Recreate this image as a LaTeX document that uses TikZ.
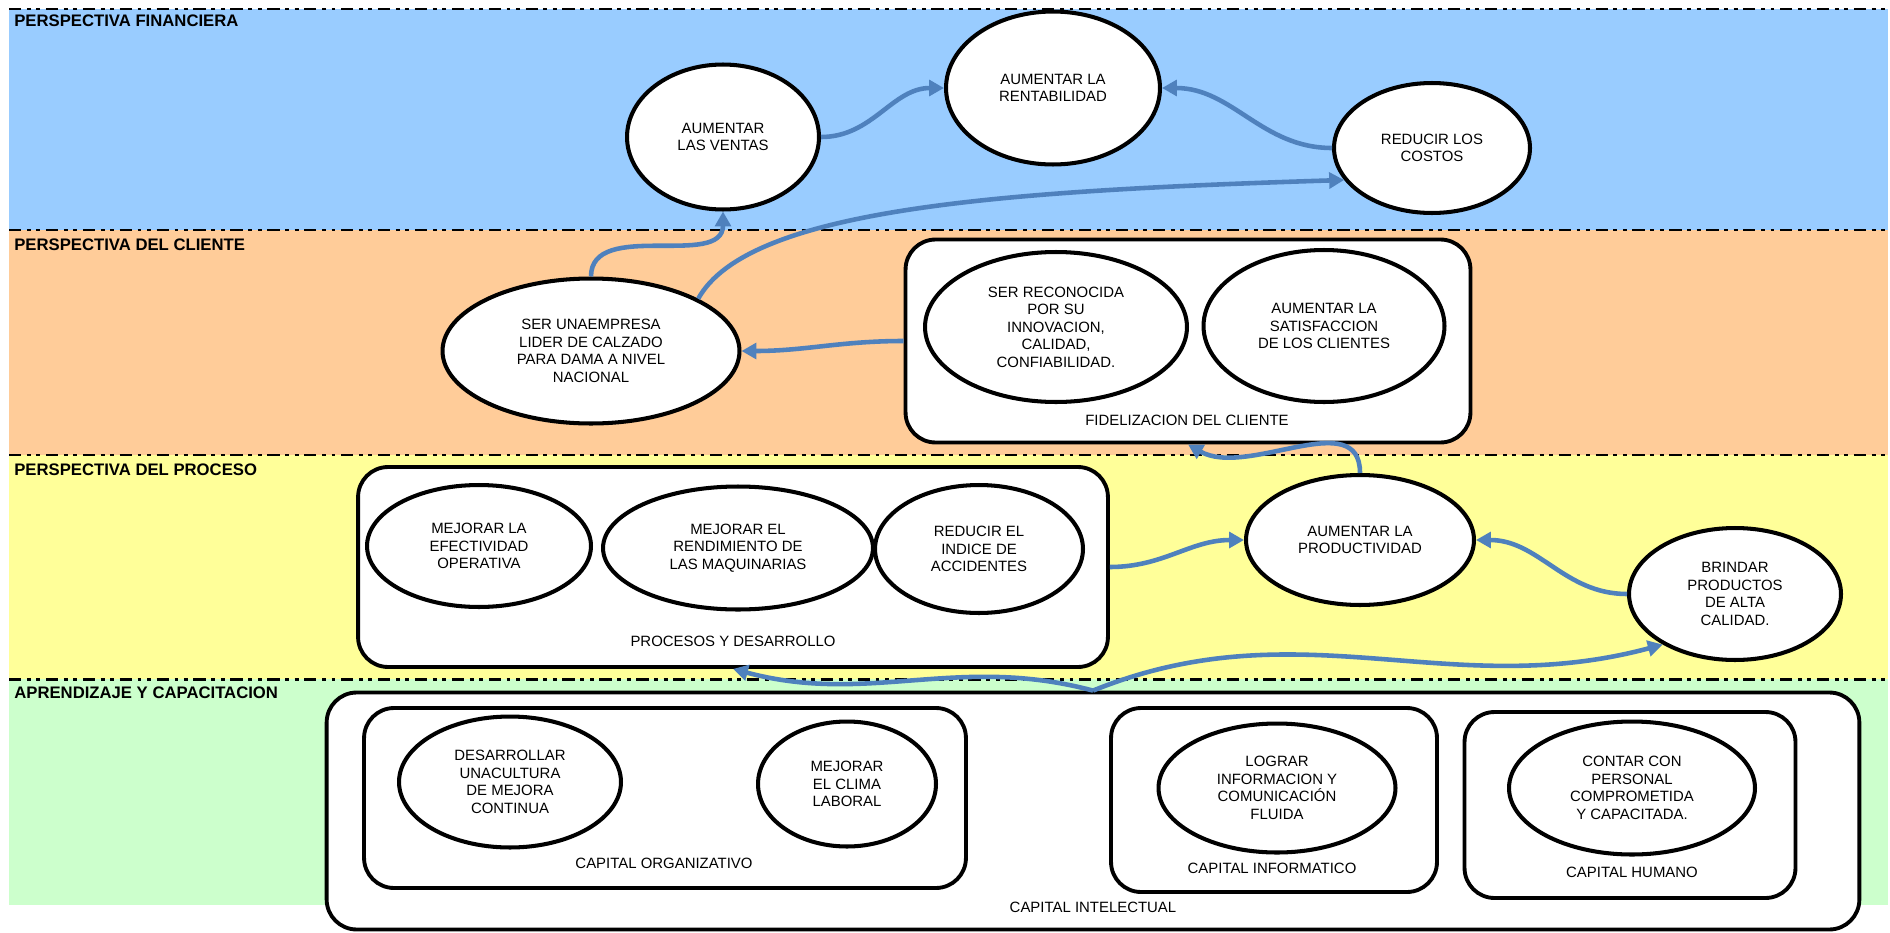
\documentclass[tikz,border=0pt]{standalone}
\usepackage{fontspec}
\setmainfont{Liberation Sans}
\usetikzlibrary{arrows.meta,positioning,shapes.geometric,calc}
\definecolor{bandblue}{HTML}{99CCFF}
\definecolor{bandorange}{HTML}{FFCC99}
\definecolor{bandyellow}{HTML}{FFFF99}
\definecolor{bandgreen}{HTML}{CCFFCC}
\definecolor{arrowblue}{HTML}{4F81BD}

\begin{document}
\begin{tikzpicture}[
    x=0.02cm, y=-0.02cm,
    goal/.style={draw, ellipse, line width=2.3pt, fill=white, align=center, inner sep=0pt, font=\fontsize{8.5}{10}\selectfont},
    group/.style={draw, rounded corners=0.6cm, line width=2.2pt, fill=white},
    tag/.style={font=\fontsize{8.5}{10}\selectfont},
    band/.style={anchor=west, inner sep=0pt, font=\bfseries\fontsize{9.5}{11}\selectfont},
    sep/.style={line width=1.7pt, dash pattern=on 7pt off 3.2pt on 2.2pt off 3.2pt on 2.2pt off 3.2pt},
    flow/.style={-{Triangle[length=8.5pt,width=9pt]}, line width=2.6pt, arrowblue}
  ]
    \useasboundingbox (0,0) rectangle (1890,933);
    \fill[bandblue] (9,9) rectangle (1888,230);
    \fill[bandorange] (9,230) rectangle (1888,455);
    \fill[bandyellow] (9,455) rectangle (1888,679);
    \fill[bandgreen] (9,679) rectangle (1888,905);
    \foreach \y in {9,230,455,679}
      \draw[sep] (9,\y) -- (1888,\y);

    \node[band] (pfin) at (14,21) {PERSPECTIVA FINANCIERA};
    \node[band] (pcli) at (14,245) {PERSPECTIVA DEL CLIENTE};
    \node[band] (ppro) at (14,470) {PERSPECTIVA DEL PROCESO};
    \node[band] (papr) at (14,693) {APRENDIZAJE Y CAPACITACION};

    \node[goal, minimum width=3.84cm, minimum height=2.9cm] (ventas) at (723,137) {AUMENTAR\\LAS VENTAS};
    \node[goal, minimum width=4.28cm, minimum height=3.06cm] (rent) at (1053,88) {AUMENTAR LA\\RENTABILIDAD};
    \node[goal, minimum width=3.92cm, minimum height=2.6cm] (costos) at (1432,148) {REDUCIR LOS\\COSTOS};

    \node[goal, minimum width=5.94cm, minimum height=2.9cm] (lider) at (591,351) {SER UNAEMPRESA\\LIDER DE CALZADO\\PARA DAMA A NIVEL\\NACIONAL};
    \node[group, minimum width=11.3cm, minimum height=4.06cm] (fid) at (1188,341) {};
    \node[goal, minimum width=5.24cm, minimum height=3.0cm] (reconocida) at (1056,327) {SER RECONOCIDA\\POR SU\\INNOVACION,\\CALIDAD,\\CONFIABILIDAD.};
    \node[goal, minimum width=4.82cm, minimum height=3.04cm] (satisf) at (1324,326) {AUMENTAR LA\\SATISFACCION\\DE LOS CLIENTES};
    \node[tag] (fidtag) at (1187,420) {FIDELIZACION DEL CLIENTE};

    \node[group, minimum width=15cm, minimum height=4cm] (procesos) at (733,567) {};
    \node[goal, minimum width=4.48cm, minimum height=2.44cm] (efect) at (479,546) {MEJORAR LA\\EFECTIVIDAD\\OPERATIVA};
    \node[goal, minimum width=5.4cm, minimum height=2.46cm] (rendim) at (738,548) {MEJORAR EL\\RENDIMIENTO DE\\LAS MAQUINARIAS};
    \node[goal, minimum width=4.16cm, minimum height=2.56cm] (accid) at (979,549) {REDUCIR EL\\INDICE DE\\ACCIDENTES};
    \node[tag] (protag) at (733,641) {PROCESOS Y DESARROLLO};
    \node[goal, minimum width=4.56cm, minimum height=2.6cm] (prod) at (1360,540) {AUMENTAR LA\\PRODUCTIVIDAD};
    \node[goal, minimum width=4.24cm, minimum height=2.64cm] (brindar) at (1735,594) {BRINDAR\\PRODUCTOS\\DE ALTA\\CALIDAD.};

    \node[group, minimum width=30.66cm, minimum height=4.74cm] (intel) at (1093,811) {};
    \node[tag] (inttag) at (1093,907) {CAPITAL INTELECTUAL};
    \node[group, minimum width=12.04cm, minimum height=3.6cm] (organiz) at (665,798) {};
    \node[goal, minimum width=4.44cm, minimum height=2.62cm] (cultura) at (510,782) {DESARROLLAR\\UNACULTURA\\DE MEJORA\\CONTINUA};
    \node[goal, minimum width=3.56cm, minimum height=2.5cm] (clima) at (847,784) {MEJORAR\\EL CLIMA\\LABORAL};
    \node[tag] (orgtag) at (664,863) {CAPITAL ORGANIZATIVO};
    \node[group, minimum width=6.52cm, minimum height=3.68cm] (informat) at (1274,800) {};
    \node[goal, minimum width=4.74cm, minimum height=2.58cm] (lograr) at (1277,788) {LOGRAR\\INFORMACION Y\\COMUNICACIÓN\\FLUIDA};
    \node[tag] (inftag) at (1272,868) {CAPITAL INFORMATICO};
    \node[group, minimum width=6.62cm, minimum height=3.72cm] (humano) at (1630,805) {};
    \node[goal, minimum width=4.92cm, minimum height=2.66cm] (contar) at (1632,788) {CONTAR CON\\PERSONAL\\COMPROMETIDA\\Y CAPACITADA.};
    \node[tag] (humtag) at (1632,872) {CAPITAL HUMANO};

    \draw[flow] (ventas.east) to[out=0,in=180] (rent.west);
    \draw[flow] (costos.west) to[out=180,in=0] (rent.east);
    \draw[flow] (lider.north) to[out=90,in=-90] (ventas.south);
    \draw[flow] (lider.26) .. controls +(50,-90) and +(-346,11) .. (costos.200);
    \draw[flow] (fid.west) to[out=180,in=0] (lider.east);
    \draw[flow] (prod.north) to[out=90,in=-30] (fid.south);
    \draw[flow] (procesos.east) to[out=0,in=180] (prod.west);
    \draw[flow] (brindar.west) to[out=180,in=0] (prod.east);
    \draw[flow] (intel.north) to[out=165,in=-15] (procesos.south);
    \draw[flow] (intel.north) to[out=22,in=195] (brindar.215);
  \end{tikzpicture}
\end{document}
